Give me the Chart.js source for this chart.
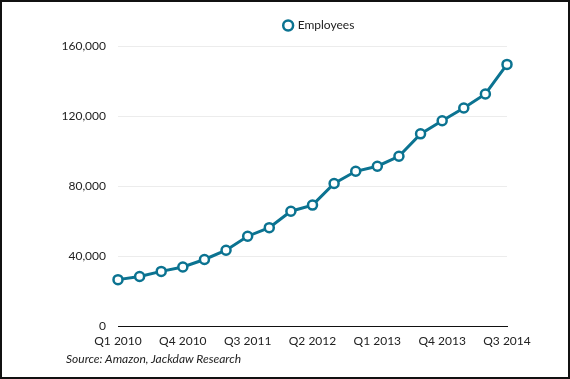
<!DOCTYPE html>
<html><head><meta charset="utf-8">
<script src="https://cdn.jsdelivr.net/npm/chart.js@4/dist/chart.umd.min.js"></script>
<style>
html,body{margin:0;padding:0;background:#fff;}
#wrap{position:relative;width:570px;height:379px;box-sizing:border-box;border:2px solid #111;overflow:hidden;}
#c{position:absolute;left:-2px;top:-2px;}
#src{position:absolute;left:64px;top:349px;font-family:Lato,sans-serif;font-style:italic;font-size:12px;color:#222;}
</style></head>
<body>
<div id="wrap"><canvas id="c" width="570" height="379"></canvas><div id="src">Source: Amazon, Jackdaw Research</div></div>
<script>
const categories = ["Q1 2010","Q2 2010","Q3 2010","Q4 2010","Q1 2011","Q2 2011","Q3 2011","Q4 2011","Q1 2012","Q2 2012","Q3 2012","Q4 2012","Q1 2013","Q2 2013","Q3 2013","Q4 2013","Q1 2014","Q2 2014","Q3 2014"];
const employees = [26500,28300,31200,33700,38000,43300,51300,56200,65600,69100,81400,88400,91300,97000,109800,117300,124600,132600,149500];
const yTicks = [0,40000,80000,120000,160000];
const seriesName = "Employees";
const teal = '#0b7391';

const legendShift = {
  id: 'legendShift',
  afterLayout(chart){ const l = chart.legend; if (l) { l.left += 66; l.right += 66; l.top -= 4.5; l.bottom -= 4.5; } }
};

new Chart(document.getElementById('c'), {
  type: 'line',
  data: { labels: categories, datasets: [{
    label: seriesName, data: employees, borderColor: teal, backgroundColor: '#fff',
    borderWidth: 3, pointRadius: 4.5, pointBorderWidth: 2.5, pointBackgroundColor: '#fff',
    pointBorderColor: teal, tension: 0, fill: false
  }]},
  plugins: [legendShift],
  options: {
    responsive: false, animation: false,
    layout: { padding: { left: 0, right: 63, top: 0, bottom: 0 } },
    plugins: {
      legend: { position: 'top', labels: { usePointStyle: true, pointStyle: 'circle', boxWidth: 7, boxHeight: 7, padding: 24, color: '#222', font: { family: 'Lato', size: 12 } } },
      tooltip: { enabled: false }
    },
    scales: {
      x: {
        offset: false,
        grid: { display: false, drawTicks: false },
        border: { display: true, color: '#111', width: 1 },
        ticks: { autoSkip: false, maxRotation: 0, padding: 8, color: '#222', font: { family: 'Lato', size: 12 },
          callback: function(v, i){ return i % 3 === 0 ? categories[i] : ''; } },
        afterFit: function(s){ s.height = 53; }
      },
      y: {
        min: 0, max: 160000,
        afterBuildTicks: function(s){ s.ticks = yTicks.map(v => ({value: v})); },
        grid: { color: '#ececec', lineWidth: 1, drawTicks: false },
        border: { display: false },
        ticks: { padding: 12, color: '#222', font: { family: 'Lato', size: 12 },
          callback: function(v){ return v.toLocaleString('en-US'); } },
        afterFit: function(s){ s.width = 118; }
      }
    }
  }
});
</script>
</body></html>
